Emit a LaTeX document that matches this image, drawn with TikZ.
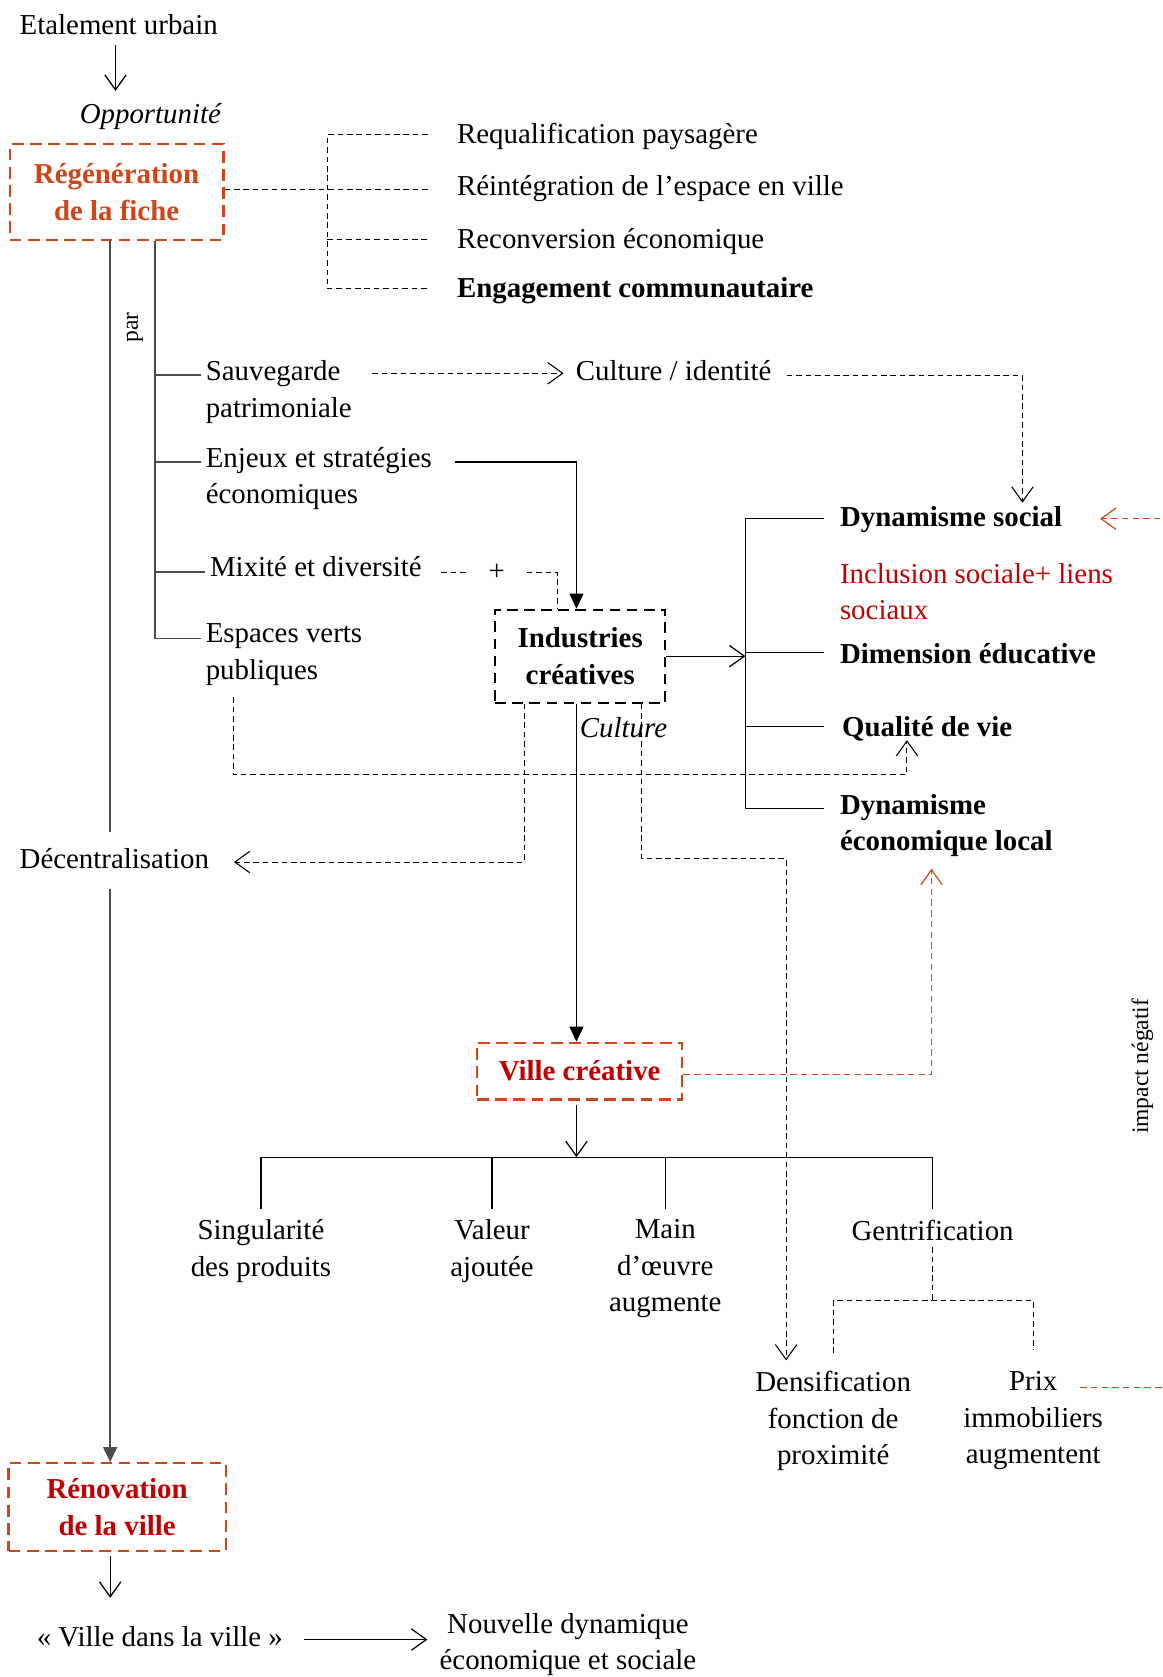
\documentclass[tikz,border=0pt]{standalone}
\usepackage{fontspec}
\setmainfont{Liberation Serif}
\usetikzlibrary{arrows.meta,calc}
\definecolor{fiche}{RGB}{208,68,22}
\definecolor{rouge}{RGB}{192,0,0}

\begin{document}
\begin{tikzpicture}[x=0.5pt, y=-0.5pt,
	every node/.style={inner sep=0pt, font=\fontsize{13.5}{17}\selectfont},
	lbl/.style={anchor=north west, align=left},
	leaf/.style={anchor=north, align=center},
	small/.style={font=\fontsize{11}{13}\selectfont},
	bold/.style={font=\fontsize{13.5}{17}\selectfont\bfseries},
	rbox/.style={draw=fiche, line width=1pt, dash pattern=on 5.5pt off 3pt, align=center, bold},
	kbox/.style={draw=black, line width=0.9pt, dash pattern=on 5pt off 3pt, align=center, bold},
	ln/.style={line width=0.6pt},
	gln/.style={draw=black!70, line width=0.9pt},
	dsh/.style={line width=0.5pt, dash pattern=on 2.6pt off 1.8pt},
	rdsh/.style={draw=fiche, line width=0.55pt, dash pattern=on 3pt off 2pt},
	opn/.style={-{Straight Barb[length=7pt,width=10pt]}},
	fil/.style={-{Triangle[length=7pt,width=6.5pt]}}]
	\useasboundingbox (0,0) rectangle (1087,1568);
	\node[lbl] (etal) at (18,13) {Etalement urbain};
	\node[anchor=north east] (opp) at (207,96) {\itshape Opportunité};
	\node[rbox, text=fiche, minimum width=100pt, minimum height=44.5pt] (regen) at (109,179.5) {Régénération\\de la fiche};
	\node[lbl] (requal) at (427,115) {Requalification paysagère};
	\node[lbl] (reint) at (427,164) {Réintégration de l’espace en ville};
	\node[lbl] (recon) at (427,213) {Reconversion économique};
	\node[lbl, bold] (engag) at (427,259) {Engagement communautaire};
	\node[lbl] (sauv) at (192,337) {Sauvegarde\\patrimoniale};
	\node[lbl] (enjeu) at (192,418) {Enjeux et stratégies\\économiques};
	\node[lbl] (mixi) at (196,520) {Mixité et diversité};
	\node[lbl] (espace) at (192,583) {Espaces verts\\publiques};
	\node[small, rotate=90] (par) at (126,306) {par};
	\node[lbl] (cult) at (538,337) {Culture / identité};
	\node[inner xsep=10pt] (plus) at (464.5,535) {+};
	\node[kbox, minimum width=79.5pt, minimum height=43.5pt] (indus) at (542.5,613.5) {Industries\\créatives};
	\node (cultit) at (583,680) {\itshape Culture};
	\node[lbl, bold] (dsoc) at (785,473) {Dynamisme social};
	\node[lbl, text=rouge] (incl) at (785,526) {Inclusion sociale+ liens\\sociaux};
	\node[lbl, bold] (deduc) at (785,601) {Dimension éducative};
	\node[lbl, bold] (qual) at (787,669) {Qualité de vie};
	\node[lbl, bold] (dyneco) at (785,742) {Dynamisme\\économique local};
	\node[lbl] (decent) at (18,793) {Décentralisation};
	\node[rbox, text=rouge, minimum width=96pt, minimum height=26.5pt] (ville) at (542,1001.5) {Ville créative};
	\node[leaf] (sing) at (244,1140) {Singularité\\des produits};
	\node[leaf] (valeur) at (460,1140) {Valeur\\ajoutée};
	\node[leaf] (main) at (622,1140) {Main\\d’œuvre\\augmente};
	\node[leaf] (gentri) at (872,1140) {Gentrification};
	\node[leaf] (dens) at (779,1282) {Densification\\fonction de\\proximité};
	\node[leaf] (prix) at (966,1282) {Prix\\immobiliers\\augmentent};
	\node[small, rotate=90] (impact) at (1068,997) {impact négatif};
	\node[rbox, text=rouge, minimum width=101.5pt, minimum height=41pt] (renov) at (109.5,1409) {Rénovation\\de la ville};
	\node[lbl] (vdv) at (34,1520) {« Ville dans la ville »};
	\node[leaf] (nouv) at (531,1508) {Nouvelle dynamique\\économique et sociale};
	\coordinate (spine) at (103,0);
	\coordinate (rail) at (145,0);
	\coordinate (colx) at (539,0);
	\coordinate (vbar) at (697,0);
	\coordinate (oppin) at (108,85);
	\coordinate (hub) at (539,1082);
	\coordinate (edge1) at (1095,485);
	\coordinate (edge2) at (1095,1297);
	\draw[ln, opn, shorten <=4.5pt] (etal.south -| oppin) -- (oppin);
	\coordinate (rg-e) at ($(regen.east)+(0,-2.5)$);
	\path (rg-e) ++(96,0) coordinate (bkt);
	\foreach \n in {requal,recon,engag} \coordinate (\n-w) at ($(\n.north west)+(-27,11)$);
	\draw[dsh] (rg-e) -- (rg-e -| requal-w);
	\draw[dsh] (requal-w) -| (bkt) |- (engag-w);
	\draw[dsh] (bkt |- recon-w) -- (recon-w);
	\draw[gln] (regen.south -| spine) -- ($(decent.north -| spine)+(0,-15)$);
	\draw[gln, fil] ($(decent.south -| spine)+(0,18)$) -- (renov.north -| spine);
	\foreach \n/\d in {sauv/14,enjeu/14,mixi/15,espace/14} \coordinate (\n-w) at ($(\n.north west)+(-4,\d)$);
	\draw[gln] (regen.south -| rail) |- (espace-w);
	\foreach \n in {sauv,enjeu,mixi} \draw[gln] (rail |- \n-w) -- (\n-w);
	\draw[dsh, opn] ($(sauv.north east)+(19,12)$) -- ($(cult.north west)+(-11,12)$);
	\draw[dsh, opn] ($(cult.north east)+(14,14)$) -| ($(dsoc.north west)+(171,-3)$);
	\draw[ln, fil] ($(enjeu.north east)+(21,14)$) -| (indus.north -| colx);
	\draw[dsh] ($(mixi.north east)+(18,15)$) -- (plus.west);
	\draw[dsh] (plus.east) -| ($(indus.north)+(-21.5,0)$);
	\draw[ln, opn] (indus.east) -- (indus.east -| vbar);
	\foreach \n/\d/\s in {dsoc/12/15,deduc/9/15,qual/10/17,dyneco/14/15} \coordinate (\n-w) at ($(\n.north west)+(-\s,\d)$);
	\draw[ln] (dsoc-w) -| (vbar |- dyneco-w) -- (dyneco-w);
	\draw[ln] (vbar |- deduc-w) -- (deduc-w);
	\draw[ln] (vbar |- qual-w) -- (qual-w);
	\draw[dsh, opn] ($(espace.north west)+(26,69)$) |- ($(qual.north west)+(61,55)$) -- ($(qual.north west)+(61,23)$);
	\draw[dsh, opn] ($(indus.south)+(-52.5,0)$) |- ($(decent.north east)+(23,13)$);
	\draw[dsh, opn] ($(indus.south)+(57.5,0)$) -- ++(0,145) -| ($(dens.north)+(-44,-10)$);
	\draw[ln, fil] (indus.south -| colx) -- (ville.north -| colx);
	\draw[rdsh, opn] ($(ville.east)+(0,3.5)$) -| ($(dyneco.south west)+(86,11)$);
	\draw[ln, opn, shorten <=2pt] (ville.south -| hub) -- (hub);
	\draw[ln] (sing.north |- hub) -- (gentri.north |- hub);
	\foreach \n in {sing,valeur,main,gentri} \draw[ln] (\n.north |- hub) -- ($(\n.north)+(0,-10)$);
	\draw[dsh] ($(gentri.south)+(0,6)$) -- ++(0,50) coordinate (gsplit);
	\draw[dsh] ($(dens.north)+(0,-17)$) |- (gsplit) -| ($(prix.north)+(0,-20)$);
	\draw[rdsh] ($(prix.north)+(44,15)$) -- (edge2);
	\draw[rdsh, opn] (edge1) -- ($(dsoc.north east)+(35,12)$);
	\draw[ln, opn, shorten <=2pt] (renov.south -| spine) -- ($(vdv.north -| spine)+(0,-26)$);
	\draw[ln, opn] ($(vdv.east)+(19,3)$) -- ($(nouv.west |- vdv.east)+(-11,3)$);
\end{tikzpicture}
\end{document}
